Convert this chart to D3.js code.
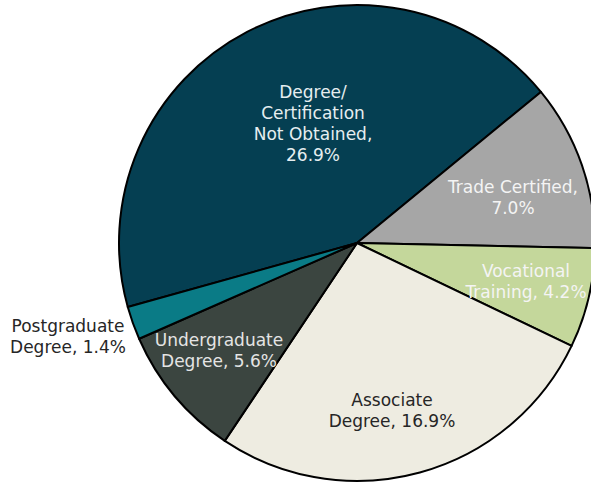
<!DOCTYPE html>
<html>
<head>
<meta charset="utf-8">
<script src="https://cdn.jsdelivr.net/npm/d3@7"></script>
<style>
	body { margin: 0; background: #ffffff; }
	svg { display: block; }
	.lbl { font-family: "Century Gothic", "DejaVu Sans", sans-serif; font-size: 17px; }
</style>
</head>
<body>
<script>
// slice names (one entry per line of the label) and their values in %
var categories = [
	["Degree/", "Certification", "Not Obtained,"],
	["Trade Certified,"],
	["Vocational", "Training,"],
	["Associate", "Degree,"],
	["Undergraduate", "Degree,"],
	["Postgraduate", "Degree,"]
];
var values = [26.9, 7.0, 4.2, 16.9, 5.6, 1.4];
// does the value go on its own line below the name?
var pctOwnLine = [true, true, false, false, false, false];

var colors = ["#053f52", "#a6a6a6", "#c4d79b", "#eeece1", "#3b4540", "#0a7b86"];
var textColors = ["#e6eef0", "#f4f4f4", "#f4f4f4", "#262626", "#e4e4e4", "#262626"];
// label placement: text centre x and first baseline y, relative to pie centre
var labelOffsets = [[-44, -145], [156, -50], [169, 34], [35, 163], [-138, 103], [-289, 89]];

var w = 591;
var h = 483;
var cx = 357;
var cy = 243;
var radius = 238;
var lineHeight = 21;
var startAngle = -105.6 * Math.PI / 180;

var svg = d3.select("body")
	.append("svg")
	.attr("width", w)
	.attr("height", h);

var pie = d3.pie()
	.sort(null)
	.value(function(d) { return d; })
	.startAngle(startAngle)
	.endAngle(startAngle + 2 * Math.PI);

var arc = d3.arc()
	.innerRadius(0)
	.outerRadius(radius);

var g = svg.append("g")
	.attr("transform", "translate(" + cx + "," + cy + ")");

// drawing slices
g.selectAll("path")
	.data(pie(values))
	.enter()
	.append("path")
	.attr("d", arc)
	.attr("fill", function(d, i) { return colors[i]; })
	.attr("stroke", "#000000")
	.attr("stroke-width", 2)
	.attr("stroke-linejoin", "round");

// labels
g.selectAll("text")
	.data(categories)
	.enter()
	.append("text")
	.attr("class", "lbl")
	.attr("text-anchor", "middle")
	.attr("fill", function(d, i) { return textColors[i]; })
	.each(function(d, i) {
		var lines = d.slice();
		var pct = values[i].toFixed(1) + "%";
		if (pctOwnLine[i]) {
			lines.push(pct);
		} else {
			lines[lines.length - 1] += " " + pct;
		}
		var t = d3.select(this);
		lines.forEach(function(line, j) {
			t.append("tspan")
				.attr("x", labelOffsets[i][0])
				.attr("y", labelOffsets[i][1] + j * lineHeight)
				.text(line);
		});
	});
</script>
</body>
</html>
